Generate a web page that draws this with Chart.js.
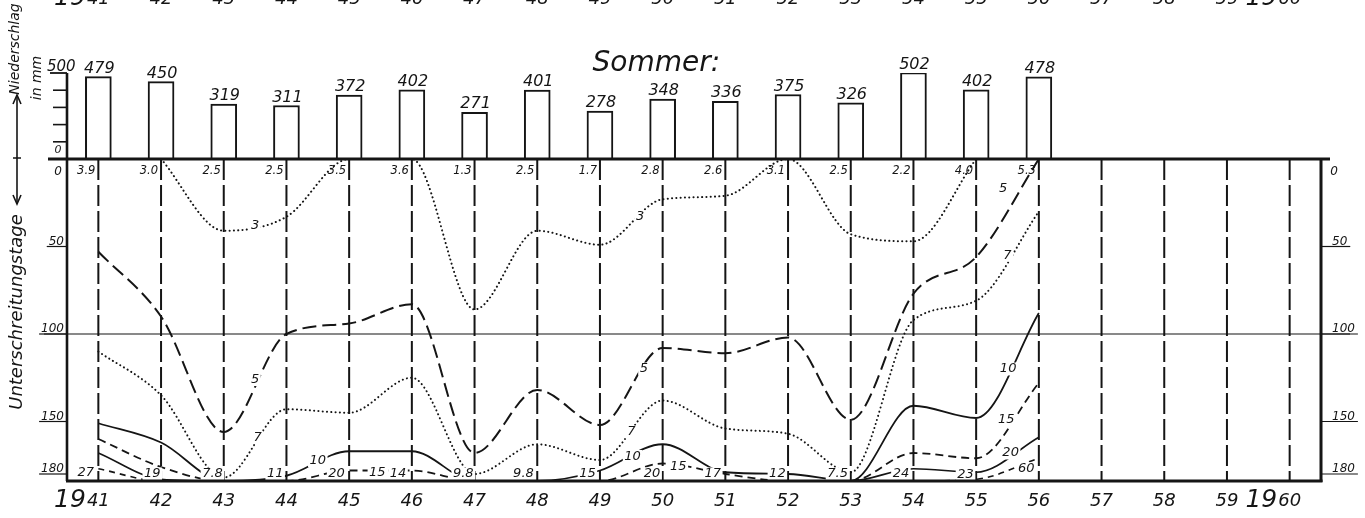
<!DOCTYPE html>
<html lang="de">
<head>
<meta charset="utf-8">
<title>Sommer: Niederschlag und Unterschreitungstage 1941–1960</title>
<script src="https://cdn.jsdelivr.net/npm/chart.js@4.4.1/dist/chart.umd.min.js"></script>
<style>
  html, body { margin: 0; padding: 0; background: #fff; }
  #blatt { display: block; width: 1365px; height: 518px; }
</style>
</head>
<body>
<canvas id="blatt" width="1365" height="518"></canvas>
<script>
// Sommer mit Messwerten
const jahre = [1941, 1942, 1943, 1944, 1945, 1946, 1947, 1948, 1949, 1950, 1951, 1952, 1953, 1954, 1955, 1956];
// Jahresteilung der Zeitachse und ihre zweistellige Beschriftung
const achsenJahre = [1941, 1942, 1943, 1944, 1945, 1946, 1947, 1948, 1949, 1950, 1951, 1952, 1953, 1954, 1955, 1956, 1957, 1958, 1959, 1960];
const achsenText = ['41', '42', '43', '44', '45', '46', '47', '48', '49', '50', '51', '52', '53', '54', '55', '56', '57', '58', '59', '60'];

// Niederschlag im Sommer in mm
const niederschlag = [479, 450, 319, 311, 372, 402, 271, 401, 278, 348, 336, 375, 326, 502, 402, 478];
// Kleinster Abfluss je Sommer (oben unter der Nulllinie)
const kleinstwerte = ['3.9', '3.0', '2.5', '2.5', '3.5', '3.6', '1.3', '2.5', '1.7', '2.8', '2.6', '3.1', '2.5', '2.2', '4.0', '5.3'];

// Unterschreitungstage je Schwellenwert
const tage3  = [null, 0, 41, 33, 0, 0, 86, 41, 49, 23, 21, 0, 43, 47, 0, null];
const tage5  = [53, 90, 156, 100, 94, 83, 168, 132, 152, 108, 111, 102, 149, 77, 56, 0];
const tage7  = [110, 135, 182, 143, 145, 125, 180, 163, 172, 138, 154, 157, 179, 92, 81, 30];
const tage10 = [151, 162, 184, 181, 167, 167, 184, 184, 178, 163, 179, 180, 184, 141, 148, 88];
const tage15 = [160, 176, 184, 184, 178, 178, 184, 184, 184, 174, 180, 184, 184, 168, 171, 128];
const tage20 = [168, 183, 184, 184, 184, 184, 184, 184, 184, 184, 184, 184, 184, 177, 179, 159];
const tage25 = [177, 184, 184, 184, 184, 184, 184, 184, 184, 184, 184, 184, 184, 184, 183, 171];

// Kurvenbeschriftung: Text, Lage auf der Zeitachse, Lage in Tagen
const kurvenText = ['3', '3', '5', '5', '5', '7', '7', '7', '10', '10', '10', '15', '20'];
const kurvenJahr = [1943.5, 1949.64, 1943.5, 1949.7, 1955.43, 1943.54, 1949.5, 1955.5, 1944.5, 1949.52, 1955.51, 1955.48, 1955.55];
const kurvenTage = [38, 33, 126, 120, 17, 159, 156, 55, 172.5, 170, 120, 149, 168];

// Größter Abfluss je Sommer, am unteren Rand eingetragen
const hoechstText = ['27', '19', '7.8', '11', '20', '15', '14', '9.8', '9.8', '15', '20', '15', '17', '12', '7.5', '24', '23', '60'];
const hoechstJahr = [1940.8, 1941.86, 1942.82, 1943.82, 1944.8, 1945.45, 1945.78, 1946.82, 1947.78, 1948.8, 1949.83, 1950.25, 1950.8, 1951.83, 1952.79, 1953.8, 1954.83, 1955.8];
const hoechstTage = [179, 180, 180, 180, 180, 179, 180, 180, 180, 180, 180, 176, 180, 180, 180, 180, 180.5, 177];

// Skalenteilung
const tageTicks = [50, 100, 150, 180];
const mmTicks = [100, 200, 300, 400];

const INK = '#151515';
const FAMILIE = "'DejaVu Sans', 'Liberation Sans', sans-serif";
const kursiv = px => `italic ${px}px ${FAMILIE}`;

function punkte(werte) {
  return jahre.map((j, i) => ({ x: j, y: werte[i] }));
}

function kurve(werte, strich, breite, muster) {
  return {
    type: 'line',
    data: punkte(werte),
    xAxisID: 'x',
    yAxisID: 'yTage',
    borderColor: INK,
    borderWidth: breite,
    borderDash: muster,
    borderCapStyle: strich,
    cubicInterpolationMode: 'monotone',
    pointRadius: 0,
    fill: false,
    spanGaps: false
  };
}

function text(ctx, t, x, y, font, align, base) {
  ctx.font = font;
  ctx.textAlign = align || 'center';
  ctx.textBaseline = base || 'alphabetic';
  ctx.fillText(t, x, y);
}

function freiText(ctx, t, x, y, font) {
  ctx.font = font;
  const w = ctx.measureText(t).width;
  ctx.fillStyle = '#fff';
  ctx.fillRect(x - w / 2 - 1.5, y - 6.5, w + 3, 13);
  ctx.fillStyle = INK;
  text(ctx, t, x, y, font, 'center', 'middle');
}

function linie(ctx, x1, y1, x2, y2, w) {
  ctx.lineWidth = w;
  ctx.beginPath();
  ctx.moveTo(x1, y1);
  ctx.lineTo(x2, y2);
  ctx.stroke();
}

function gedreht(ctx, t, x, y, font) {
  ctx.save();
  ctx.translate(x, y);
  ctx.rotate(-Math.PI / 2);
  text(ctx, t, 0, 0, font, 'center', 'middle');
  ctx.restore();
}

const zeichnung = {
  id: 'zeichnung',
  beforeDatasetsDraw(chart) {
    const { ctx, scales: { x, yTage } } = chart;
    ctx.save();
    ctx.strokeStyle = INK;
    // Jahreslinien im unteren Feld
    ctx.setLineDash([21, 5]);
    achsenJahre.forEach(j => {
      const px = x.getPixelForValue(j);
      linie(ctx, px, yTage.getPixelForValue(0), px, yTage.getPixelForValue(184), 2);
    });
    ctx.setLineDash([]);
    // 100-Tage-Linie
    const y100 = yTage.getPixelForValue(100);
    linie(ctx, x.left - 23, y100, x.right + 29, y100, 1.1);
    ctx.restore();
  },
  afterDatasetsDraw(chart) {
    const { ctx, scales: { x, yMm, yTage } } = chart;
    ctx.save();
    ctx.strokeStyle = INK;
    ctx.fillStyle = INK;

    // Kurvenbeschriftung und Höchstwerte
    kurvenText.forEach((t, i) => freiText(ctx, t, x.getPixelForValue(kurvenJahr[i]), yTage.getPixelForValue(kurvenTage[i]), kursiv(13)));
    hoechstText.forEach((t, i) => freiText(ctx, t, x.getPixelForValue(hoechstJahr[i]), yTage.getPixelForValue(hoechstTage[i]), kursiv(13)));

    const links = x.left, rechts = x.right;
    const y0 = yTage.getPixelForValue(0);
    const yEnde = yTage.getPixelForValue(184);

    // Rahmen
    linie(ctx, links, yMm.getPixelForValue(500), links, yEnde, 2.6);
    linie(ctx, rechts, y0, rechts, yEnde + 1, 3);
    linie(ctx, links - 1, yEnde, rechts + 1.5, yEnde, 3);
    linie(ctx, links - 19, y0, rechts + 9, y0, 3);

    // Niederschlagsskala
    const y500 = yMm.getPixelForValue(500);
    linie(ctx, links - 17, y500, links, y500, 1.8);
    mmTicks.forEach(v => {
      const py = yMm.getPixelForValue(v);
      linie(ctx, links - 14, py, links, py, 1.6);
    });
    text(ctx, '500', links - 20, y500 - 2, kursiv(15), 'left');
    text(ctx, '0', links - 9, y0 - 6, kursiv(11), 'center');

    // Tageskala links und rechts
    text(ctx, '0', links - 9, y0 + 16, kursiv(12), 'center');
    text(ctx, '0', rechts + 13, y0 + 16, kursiv(12), 'center');
    tageTicks.forEach(v => {
      const py = yTage.getPixelForValue(v);
      const t = String(v);
      ctx.font = kursiv(12);
      const w = ctx.measureText(t).width;
      linie(ctx, links - w - 5, py, links, py, 1.2);
      text(ctx, t, links - 3, py - 2, kursiv(12), 'right');
      linie(ctx, rechts, py, rechts + w + 14, py, 1.2);
      text(ctx, t, rechts + 11, py - 2, kursiv(12), 'left');
    });

    // Kleinstwerte unter der Nulllinie
    jahre.forEach((j, i) => {
      text(ctx, kleinstwerte[i], x.getPixelForValue(j) - 3, y0 + 15, kursiv(11.5), 'right');
    });

    // Werte über den Säulen
    chart.getDatasetMeta(0).data.forEach((el, i) => {
      text(ctx, String(niederschlag[i]), el.x + 1, el.y - 4, kursiv(16), 'center');
    });

    // Jahreszahlen unten und (angeschnitten) oben
    [yEnde + 25, 4].forEach(by => {
      achsenJahre.forEach((j, i) => {
        const px = x.getPixelForValue(j);
        const t = achsenText[i];
        text(ctx, t, px, by, kursiv(18), 'center');
        if (i === 0 || i === achsenJahre.length - 1) {
          ctx.font = kursiv(18);
          const w = ctx.measureText(t).width;
          text(ctx, '19', px - w / 2 - 1, by + 1, kursiv(25), 'right');
        }
      });
    });

    // Überschrift
    text(ctx, 'Sommer:', x.getPixelForValue(1949.9), 71, kursiv(28), 'center');

    // Achsentitel links
    gedreht(ctx, 'Niederschlag', 15, 49, kursiv(14));
    gedreht(ctx, 'in mm', 37, 78, kursiv(14));
    gedreht(ctx, 'Unterschreitungstage', 17, 312, kursiv(18));
    linie(ctx, 17, 96, 17, 203, 1.6);
    ctx.beginPath();
    ctx.moveTo(13, 104); ctx.lineTo(17, 95); ctx.lineTo(21, 104);
    ctx.moveTo(13, 195); ctx.lineTo(17, 204); ctx.lineTo(21, 195);
    ctx.moveTo(13, 158); ctx.lineTo(21, 158);
    ctx.stroke();

    ctx.restore();
  }
};

new Chart(document.getElementById('blatt'), {
  type: 'line',
  data: {
    datasets: [
      {
        type: 'bar',
        data: punkte(niederschlag),
        xAxisID: 'x',
        yAxisID: 'yMm',
        backgroundColor: '#ffffff',
        borderColor: INK,
        borderWidth: 2,
        barThickness: 26
      },
      kurve(tage3, 'round', 2, [0.1, 4.2]),
      kurve(tage5, 'butt', 2, [14, 6]),
      kurve(tage7, 'round', 2, [0.1, 4.2]),
      kurve(tage10, 'butt', 1.8, []),
      kurve(tage15, 'butt', 1.8, [8, 5]),
      kurve(tage20, 'butt', 1.6, []),
      kurve(tage25, 'butt', 1.6, [6, 5])
    ]
  },
  options: {
    responsive: false,
    animation: false,
    devicePixelRatio: 1,
    events: [],
    layout: { padding: { left: 67, right: 44, top: 73, bottom: 37 } },
    plugins: { legend: { display: false }, tooltip: { enabled: false } },
    scales: {
      x: {
        type: 'linear', min: 1940.5, max: 1960.5, offset: false,
        grid: { display: false, drawTicks: false }, ticks: { display: false }, border: { display: false }
      },
      yMm: {
        type: 'linear', position: 'left', stack: 'feld', stackWeight: 86, weight: 2,
        min: 0, max: 500,
        grid: { display: false, drawTicks: false }, ticks: { display: false }, border: { display: false }
      },
      yTage: {
        type: 'linear', position: 'left', stack: 'feld', stackWeight: 322, weight: 1,
        min: 0, max: 184, reverse: true,
        grid: { display: false, drawTicks: false }, ticks: { display: false }, border: { display: false }
      }
    }
  },
  plugins: [zeichnung]
});
</script>
</body>
</html>
